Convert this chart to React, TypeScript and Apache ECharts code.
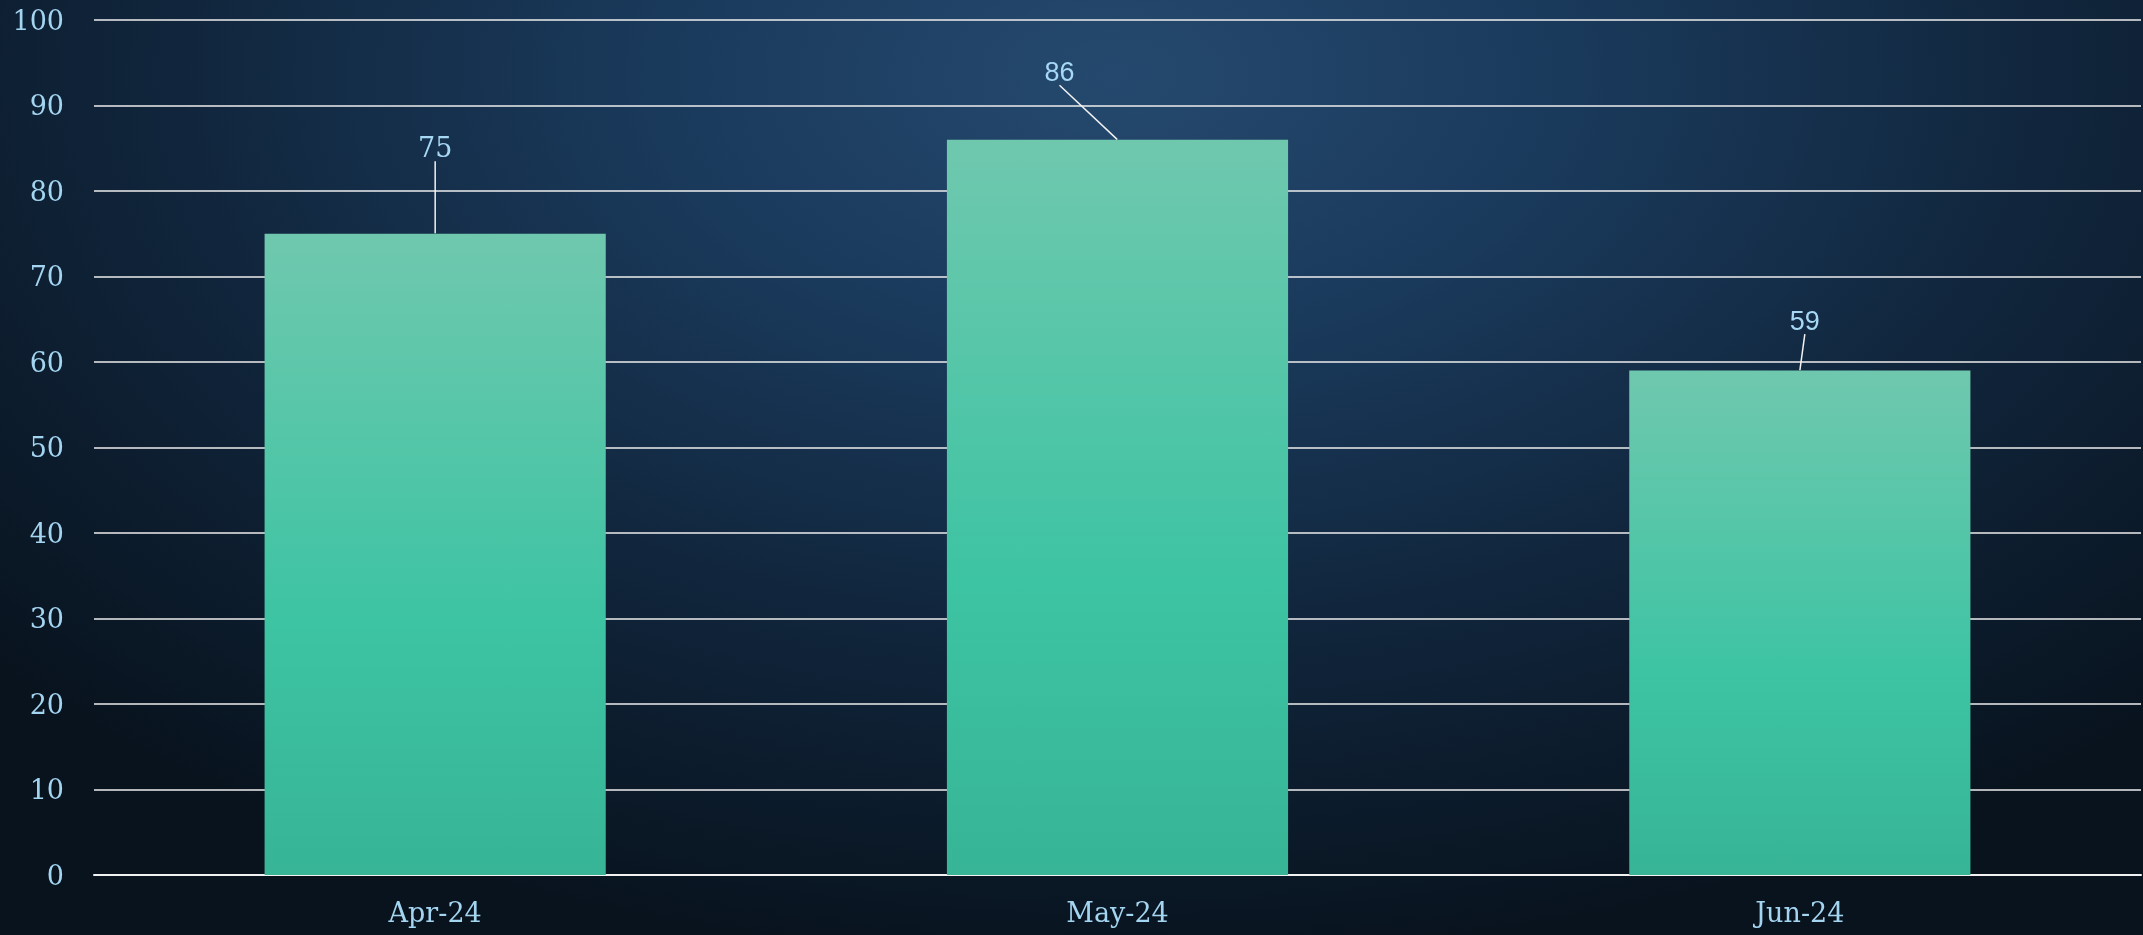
import React, { useEffect, useRef } from "react";
import * as echarts from "echarts";

const categories: string[] = ["Apr-24", "May-24", "Jun-24"];
const values: number[] = [75, 86, 59];
const yTicks = { min: 0, max: 100, interval: 10 };

export default function App() {
  const ref = useRef<HTMLDivElement | null>(null);

  useEffect(() => {
    document.body.style.margin = "0";
    if (!ref.current) return;
    const chart = echarts.init(ref.current, undefined, { renderer: "svg" });
    const labelOffsets = [
      { dx: 0, dy: -67 },
      { dx: -58, dy: -49 },
      { dx: 5, dy: -31 },
    ];
    const labelFonts = ["DejaVu Serif", "Liberation Sans", "Liberation Sans"];
    chart.setOption({
      animation: false,
      backgroundColor: "transparent",
      grid: { left: 94, right: 2, top: 20, bottom: 60, containLabel: false },
      xAxis: {
        type: "category",
        data: categories,
        axisLine: { show: true, lineStyle: { color: "#f2f2f2", width: 2 } },
        axisTick: { show: false },
        axisLabel: {
          color: "#a3d4f0",
          fontFamily: "DejaVu Serif",
          fontSize: 27,
          margin: 24,
        },
      },
      yAxis: {
        type: "value",
        min: yTicks.min,
        max: yTicks.max,
        interval: yTicks.interval,
        axisLine: { show: false },
        axisTick: { show: false },
        axisLabel: {
          color: "#a3d4f0",
          fontFamily: "DejaVu Serif",
          fontSize: 27,
          margin: 30,
        },
        splitLine: { lineStyle: { color: "#eeeeee", width: 1.6 } },
      },
      series: [
        {
          type: "bar",
          barWidth: "50%",
          data: values,
          itemStyle: {
            color: new echarts.graphic.LinearGradient(0, 0, 0, 1, [
              { offset: 0, color: "#6fc8ae" },
              { offset: 0.6, color: "#3dc4a3" },
              { offset: 1, color: "#37b596" },
            ]),
          },
          label: { show: false },
          z: 2,
        },
        {
          type: "scatter",
          symbol: "circle",
          symbolSize: 1,
          itemStyle: { color: "#37b596", opacity: 1 },
          data: values.map((v, i) => ({
            value: [categories[i], v],
            label: { fontFamily: labelFonts[i] },
          })),
          label: {
            show: true,
            position: "top",
            distance: 5,
            color: "#a6d8f4",
            opacity: 1,
            fontSize: 27,
            formatter: (p: any) => String(p.value[1]),
          },
          labelLine: {
            show: true,
            lineStyle: { color: "#f2f2f2", width: 1.5, opacity: 1 },
          },
          labelLayout: (params: any) => labelOffsets[params.dataIndex],
          z: 3,
        },
      ],
    });
    return () => chart.dispose();
  }, []);

  return (
    <div
      style={{
        position: "fixed",
        left: 0,
        top: 0,
        width: 2143,
        height: 935,
        background:
          "radial-gradient(ellipse 70% 95% at 52% 8%, #25496e 0%, #1a3a5c 30%, #10243a 65%, #08131e 100%)",
      }}
    >
      <div ref={ref} style={{ width: 2143, height: 935 }} />
    </div>
  );
}
